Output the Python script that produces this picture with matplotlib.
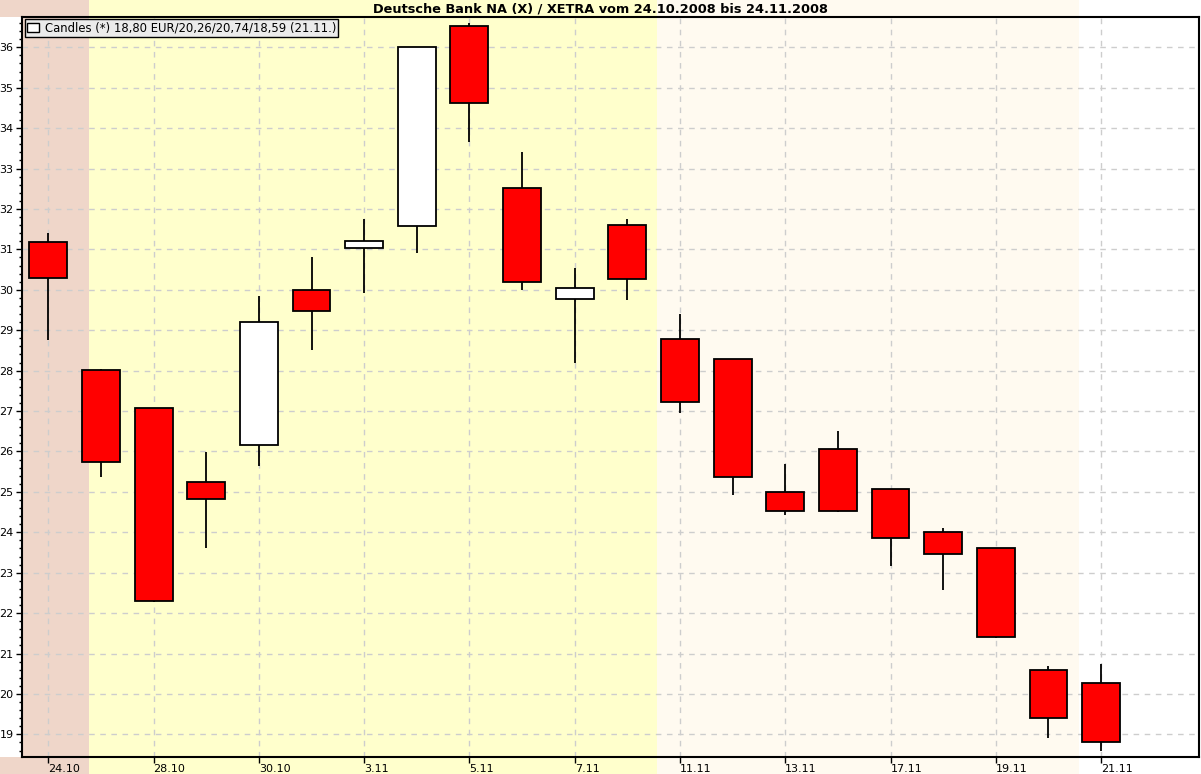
import matplotlib
matplotlib.use('Agg')
import matplotlib.pyplot as plt
from matplotlib.patches import Patch
from matplotlib.ticker import MultipleLocator
import numpy as np

# Deutsche Bank NA, XETRA, daily candles 24.10.2008 - 21.11.2008
dates = ['24.10', '27.10', '28.10', '29.10', '30.10', '31.10', '3.11', '4.11',
         '5.11', '6.11', '7.11', '10.11', '11.11', '12.11', '13.11', '14.11',
         '17.11', '18.11', '19.11', '20.11', '21.11']
opens = [31.19, 28.02, 27.07, 25.25, 26.15, 30.00, 31.03, 31.58, 36.52, 32.52, 29.78,
         31.60, 28.79, 28.30, 25.00, 26.05, 25.07, 24.00, 23.62, 20.60, 20.26]
highs = [31.40, 28.03, 27.07, 25.98, 29.84, 30.80, 31.75, 36.00, 36.60, 33.40, 30.53,
         31.74, 29.41, 28.30, 25.70, 26.50, 25.07, 24.10, 23.62, 20.68, 20.74]
lows = [28.75, 25.36, 22.27, 23.60, 25.65, 28.50, 29.92, 30.90, 33.65, 29.99, 28.20,
        29.75, 26.94, 24.92, 24.42, 24.50, 23.17, 22.57, 21.39, 18.90, 18.59]
closes = [30.29, 25.73, 22.30, 24.82, 29.20, 29.48, 31.20, 36.00, 34.63, 30.20, 30.05,
          30.27, 27.22, 25.37, 24.53, 24.53, 23.86, 23.46, 21.42, 19.40, 18.80]

# background bands (edges in candle index units)
band_edges = [0.78, 11.57, 19.58]
band_colors = ['#EFD6C9', '#FFFFCC', '#FFFAF0', '#FFFFFF']

legend_text = 'Candles (*) 18,80 EUR/20,26/20,74/18,59 (21.11.)'
title = 'Deutsche Bank NA (X) / XETRA vom 24.10.2008 bis 24.11.2008'

W, H = 1201, 774
fig = plt.figure(figsize=(W / 100, H / 100), dpi=100)
ax_l, ax_r, ax_t, ax_b = 22, 1199, 17, 757
x_lo, x_hi = -0.5, 21.86
px_per_unit = (ax_r - ax_l) / (x_hi - x_lo)

# background axes over the whole picture, same x scale as the chart
bg = fig.add_axes([0, 0, 1, 1], zorder=-1)
bg.set_xlim(x_lo - ax_l / px_per_unit, x_hi + (W - ax_r) / px_per_unit)
bg.set_ylim(0, H)
bg.axis('off')
edges = [bg.get_xlim()[0]] + band_edges + [bg.get_xlim()[1]]
for i, col in enumerate(band_colors):
    bg.axvspan(edges[i], edges[i + 1], color=col, lw=0)
# white margin left of the y axis
bg.axvspan(edges[0], x_lo, ymin=(H - ax_b) / H, ymax=(H - ax_t) / H, color='white', lw=0)

ax = fig.add_axes([ax_l / W, 1 - ax_b / H, (ax_r - ax_l) / W, (ax_b - ax_t) / H])
ax.patch.set_alpha(0)

x = np.arange(len(dates))
o = np.array(opens)
c = np.array(closes)

ax.set_xlim(x_lo, x_hi)
ax.set_ylim(18.44, 36.75)

# candles
ax.vlines(x, lows, highs, color='black', lw=1.3, zorder=3)
body_col = ['white' if cc > oo else '#FF0000' for oo, cc in zip(o, c)]
ax.bar(x, np.abs(c - o), bottom=np.minimum(o, c), width=0.72, color=body_col,
       edgecolor='black', linewidth=1.3, zorder=4)

# axes, ticks, grid
ax.set_xticks(x[::2])
ax.set_xticklabels(dates[::2], fontsize=8)
for lab in ax.get_xticklabels():
    lab.set_ha('left')
ax.yaxis.set_major_locator(MultipleLocator(1))
ax.yaxis.set_minor_locator(MultipleLocator(0.2))
ax.tick_params(axis='y', which='major', length=4, width=1, labelsize=8, pad=2)
ax.tick_params(axis='y', which='minor', length=2, width=1)
ax.tick_params(axis='x', which='major', length=4, width=1, pad=1)
ax.grid(True, which='major', color='#CDCDCD', linestyle=(0, (4, 4)), lw=1)
ax.set_axisbelow(True)
for sp in ax.spines.values():
    sp.set_linewidth(1.5)
    sp.set_color('black')
    sp.set_zorder(6)

leg = ax.legend(handles=[Patch(facecolor='white', edgecolor='black', lw=1, label=legend_text)],
                loc='upper left', bbox_to_anchor=(0.0025, 0.9973), borderaxespad=0,
                fontsize=8.4, fancybox=False, framealpha=1, handlelength=1.0,
                handleheight=0.8, handletextpad=0.5, borderpad=0.2)
leg.get_frame().set_facecolor('#EBEBEB')
leg.get_frame().set_edgecolor('black')
leg.get_frame().set_linewidth(1)
leg.set_zorder(10)

fig.text(0.5, 1 - 8.5 / H, title, ha='center', va='center', fontsize=9.3, weight='bold')

fig.savefig('out.png', dpi=100)
